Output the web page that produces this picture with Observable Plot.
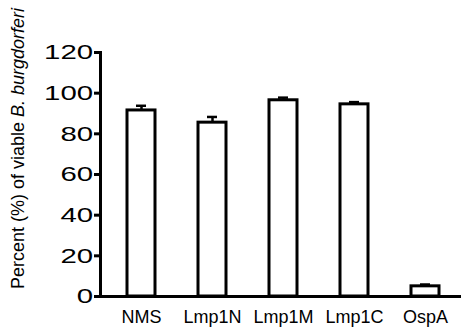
<!DOCTYPE html>
<html>
<head>
<meta charset="utf-8">
<script src="https://cdn.jsdelivr.net/npm/d3@7"></script>
<script src="https://cdn.jsdelivr.net/npm/@observablehq/plot@0.6"></script>
<style>
  html, body { margin: 0; padding: 0; background: white; }
</style>
</head>
<body>
<div id="chart"></div>
<script>
const categories = ["NMS", "Lmp1N", "Lmp1M", "Lmp1C", "OspA"];
const means = [91.5, 85.5, 96.5, 94.5, 5];
const errors = [2.3, 2.8, 1.3, 1.1, 0.9];
const yTicks = [0, 20, 40, 60, 80, 100, 120];

const data = categories.map((c, i) => ({group: c, mean: means[i], hi: means[i] + errors[i]}));

const svg = Plot.plot({
  width: 462,
  height: 328,
  marginLeft: 100,
  marginRight: 1,
  marginTop: 52,
  marginBottom: 32,
  style: {fontFamily: "'Liberation Sans', Arial, sans-serif", background: "white", color: "black", overflow: "visible"},
  x: {domain: categories, paddingInner: 0.6, paddingOuter: 0.342, align: 0.55, label: null},
  y: {domain: [0, 120], label: null},
  marks: [
    Plot.barY(data, {x: "group", y: "mean", fill: "white", stroke: "black", strokeWidth: 3}),
    Plot.ruleX(data, {x: "group", y1: "mean", y2: "hi", stroke: "black", strokeWidth: 2.5}),
    Plot.tickY(data, {x: "group", y: "hi", stroke: "black", strokeWidth: 2.5, insetLeft: 9, insetRight: 9}),
    Plot.axisY({ticks: yTicks, tickSize: 6, tickPadding: 6, strokeWidth: 3, fontSize: 21, label: null}),
    Plot.axisX({tickSize: 0, tickPadding: 14, fontSize: 18, label: null}),
    Plot.ruleY([0], {stroke: "black", strokeWidth: 3}),
    Plot.frame({anchor: "left", stroke: "black", strokeWidth: 3})
  ]
});

// y-axis title with italic species name
const lbl = d3.select(svg).append("text")
  .attr("transform", "translate(24,148.5) rotate(-90)")
  .attr("text-anchor", "middle")
  .attr("font-size", 18)
  .attr("fill", "black")
  .attr("font-family", "'Liberation Sans', Arial, sans-serif");
lbl.append("tspan").text("Percent (%) of viable ");
lbl.append("tspan").attr("font-style", "italic").text("B. burgdorferi");

document.getElementById("chart").appendChild(svg);

// horizontally stretch the numeric y tick labels (as in the reference), anchored at their right edge
const svgRect = svg.getBoundingClientRect();
d3.select(svg).selectAll("text").each(function() {
  if (!/^\d+$/.test(this.textContent.trim())) return;
  const r = this.getBoundingClientRect();
  const R = r.right - svgRect.left;
  if (R > 100) return;
  const g = document.createElementNS("http://www.w3.org/2000/svg", "g");
  g.setAttribute("transform", `translate(${R},0) scale(1.4,1) translate(${-R},0)`);
  this.parentNode.insertBefore(g, this);
  g.appendChild(this);
});
</script>
</body>
</html>
